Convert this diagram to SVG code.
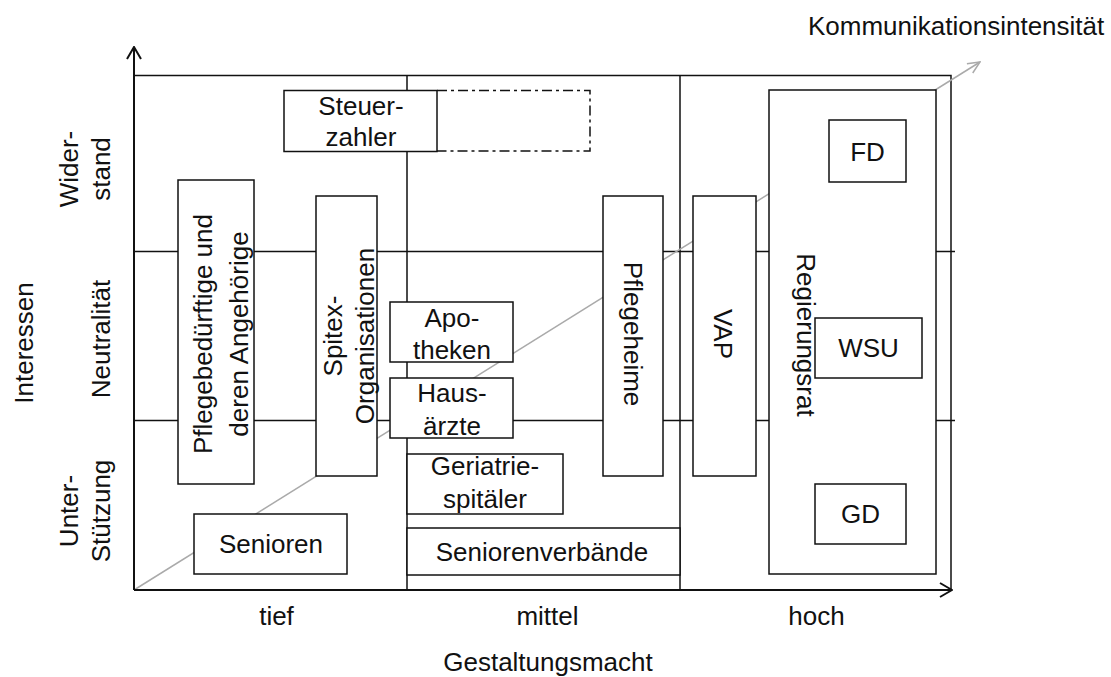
<svg xmlns="http://www.w3.org/2000/svg" width="1111" height="677" viewBox="0 0 1111 677">
<style>
.ln{stroke:#111;stroke-width:1.5;fill:none}
.ax{stroke:#111;stroke-width:2;fill:none}
.bx{stroke:#111;stroke-width:1.5;fill:#fff}
.dd{stroke:#111;stroke-width:1.5;fill:none;stroke-dasharray:10,4,3,4}
.dg{stroke:#aaa;stroke-width:1.5;fill:none}
text{font-family:"Liberation Sans",Arial,sans-serif;font-size:26px;fill:#111;text-anchor:middle}
</style>
<defs>
<marker id="ab" markerUnits="userSpaceOnUse" viewBox="0 0 14 16" refX="13" refY="8" markerWidth="14" markerHeight="16" orient="auto">
<path d="M1,1 L13,8 L1,15" fill="none" stroke="#111" stroke-width="2"/>
</marker>
<marker id="ag" markerUnits="userSpaceOnUse" viewBox="0 0 14 14" refX="13" refY="7" markerWidth="14" markerHeight="14" orient="auto">
<path d="M1,1.5 L13,7 L1,12.5" fill="none" stroke="#aaa" stroke-width="1.5"/>
</marker>
</defs>
<rect width="1111" height="677" fill="#fff"/>
<g id="connectors">
<path class="ln" d="M134,75.5 H951 V590"/>
<path class="ln" d="M407,75 V590 M680,75 V590"/>
<path class="ln" d="M134,251.5 H955 M134,420.5 H955"/>
<path class="dd" d="M437,90.5 H590 V151 H437"/>
<path class="dg" d="M134,590 L980,62" marker-end="url(#ag)"/>
<path class="ax" d="M134,590 V47" marker-end="url(#ab)"/>
<path class="ax" d="M134,590 H952" marker-end="url(#ab)"/>
</g>
<g id="axis-labels">
<text x="808" y="35" style="text-anchor:start">Kommunikationsintensität</text>
<text x="276.5" y="625">tief</text>
<text x="547.5" y="625">mittel</text>
<text x="816.5" y="625">hoch</text>
<text x="548" y="671">Gestaltungsmacht</text>
<text transform="translate(33,343) rotate(-90)">Interessen</text>
<text transform="translate(78,169) rotate(-90)">Wider-</text>
<text transform="translate(110,169) rotate(-90)">stand</text>
<text transform="translate(110,339) rotate(-90)">Neutralität</text>
<text transform="translate(78,511) rotate(-90)">Unter-</text>
<text transform="translate(110,511) rotate(-90)">Stützung</text>
</g>
<g id="steuerzahler">
<rect class="bx" x="284" y="90.5" width="153" height="61"/>
<text x="361" y="115">Steuer-</text>
<text x="361" y="146">zahler</text>
</g>
<g id="pflegebeduerftige">
<rect class="bx" x="178" y="180" width="76" height="304"/>
<text transform="translate(212,334) rotate(-90)">Pflegebedürftige und</text>
<text transform="translate(248,334) rotate(-90)">deren Angehörige</text>
</g>
<g id="spitex">
<rect class="bx" x="316" y="196" width="61" height="280"/>
<text transform="translate(342,336) rotate(-90)">Spitex-</text>
<text transform="translate(374,336) rotate(-90)">Organisationen</text>
</g>
<g id="senioren">
<rect class="bx" x="194" y="514" width="153" height="60"/>
<text x="271" y="553">Senioren</text>
</g>
<g id="apotheken">
<rect class="bx" x="390" y="302" width="123" height="60"/>
<text x="452" y="327">Apo-</text>
<text x="452" y="359">theken</text>
</g>
<g id="hausaerzte">
<rect class="bx" x="390" y="378" width="123" height="60"/>
<text x="452" y="402">Haus-</text>
<text x="452" y="435">ärzte</text>
</g>
<g id="geriatriespitaeler">
<rect class="bx" x="407" y="454" width="156" height="60"/>
<text x="485" y="475">Geriatrie-</text>
<text x="485" y="508">spitäler</text>
</g>
<g id="seniorenverbaende">
<rect class="bx" x="407" y="528" width="273" height="47"/>
<text x="542" y="561">Seniorenverbände</text>
</g>
<g id="pflegeheime">
<rect class="bx" x="603" y="196" width="60" height="280"/>
<text transform="translate(624,334) rotate(90)">Pflegeheime</text>
</g>
<g id="vap">
<rect class="bx" x="693" y="196" width="63" height="280"/>
<text transform="translate(714,334) rotate(90)">VAP</text>
</g>
<g id="regierungsrat">
<rect class="bx" x="769" y="90" width="167" height="484"/>
<text transform="translate(797,335) rotate(90)">Regierungsrat</text>
</g>
<g id="fd">
<rect class="bx" x="829" y="120" width="77" height="62"/>
<text x="867.5" y="161">FD</text>
</g>
<g id="wsu">
<rect class="bx" x="815" y="318" width="107" height="60"/>
<text x="868.5" y="357">WSU</text>
</g>
<g id="gd">
<rect class="bx" x="815" y="484" width="91" height="60"/>
<text x="860.5" y="523">GD</text>
</g>
</svg>
